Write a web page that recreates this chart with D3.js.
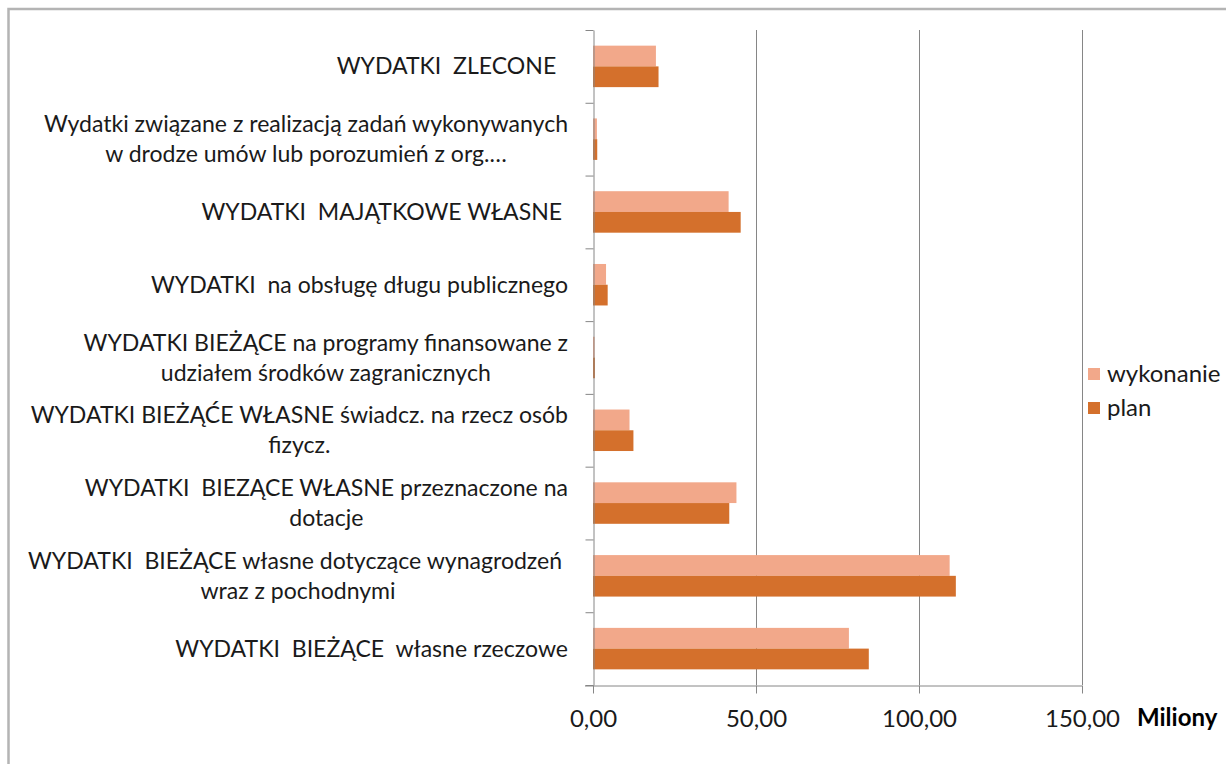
<!DOCTYPE html>
<html>
<head>
<meta charset="utf-8">
<script src="https://cdn.jsdelivr.net/npm/d3@7"></script>
<style>
  body { margin: 0; background: #fff; }
  svg text { font-family: Lato, "Open Sans", sans-serif; white-space: pre; }
</style>
</head>
<body>
<div id="chart"></div>
<script>
// categories top to bottom, "\n" = wrapped line
const categories = [
  "WYDATKI  ZLECONE  ",
  "Wydatki związane z realizacją zadań wykonywanych\nw drodze umów lub porozumień z org.…",
  "WYDATKI  MAJĄTKOWE WŁASNE ",
  "WYDATKI  na obsługę długu publicznego",
  "WYDATKI BIEŻĄCE na programy finansowane z\nudziałem środków zagranicznych",
  "WYDATKI BIEŻĄĆE WŁASNE świadcz. na rzecz osób\nfizycz.",
  "WYDATKI  BIEZĄCE WŁASNE przeznaczone na\ndotacje",
  "WYDATKI  BIEŻĄCE własne dotyczące wynagrodzeń \nwraz z pochodnymi",
  "WYDATKI  BIEŻĄCE  własne rzeczowe"
];
const series = ["wykonanie", "plan"];
const wykonanie = [19.3, 1.2, 41.6, 4.0, 0.5, 11.2, 44.0, 109.4, 78.5];
const plan      = [20.1, 1.3, 45.3, 4.5, 0.6, 12.4, 41.8, 111.3, 84.6];
const xTicks = [0, 50, 100, 150];
const unitLabel = "Miliony";

const colors = { wykonanie: "#F2A88A", plan: "#D4702C" };
const W = 1226, H = 764;

let svg = d3.select("#chart").append("svg")
    .attr("width", W)
    .attr("height", H);

// outer chart frame (runs off the picture right and bottom)
svg.append("rect")
    .attr("x", 8.5).attr("y", 9)
    .attr("width", 1300).attr("height", 800)
    .attr("fill", "none")
    .attr("stroke", "#b4b4b4")
    .attr("stroke-width", 2.5);

let x = d3.scaleLinear().domain([0, 150]).range([593, 1082]);
let y = d3.scaleBand().domain(categories).range([30, 685])
    .paddingInner(0.43).paddingOuter(0.215);
let ys = d3.scaleBand().domain(series).range([0, y.bandwidth()]);
let yIdx = d3.scaleLinear().domain([0, categories.length]).range([30, 685]);

// font size fitted so the longest label line is about as wide as in the original
let probe = svg.append("text").style("font-size", "20px")
    .text("Wydatki związane z realizacją zadań wykonywanych");
let fs = 20 * 546 / probe.node().getComputedTextLength();
probe.remove();
let labelFs = fs * 0.96;

// gridlines
svg.append("g")
    .selectAll("line")
    .data(xTicks.slice(1))
    .join("line")
    .attr("x1", d => x(d) + 0.5).attr("x2", d => x(d) + 0.5)
    .attr("y1", 30).attr("y2", 685)
    .attr("stroke", "#868686");

// bars
let rows = categories.map((c, i) => ({ cat: c, vals: { wykonanie: wykonanie[i], plan: plan[i] } }));
svg.append("g")
    .selectAll("g")
    .data(rows)
    .join("g")
    .attr("transform", d => "translate(0," + y(d.cat) + ")")
    .selectAll("rect")
    .data(d => series.map(s => ({ s: s, v: d.vals[s] })))
    .join("rect")
    .attr("x", x(0))
    .attr("y", d => ys(d.s))
    .attr("width", d => x(d.v) - x(0))
    .attr("height", ys.bandwidth())
    .attr("fill", d => colors[d.s]);

// category axis with ticks between groups
let yAxis = svg.append("g")
    .attr("transform", "translate(" + (x(0) + 0.5) + ",0)")
    .call(d3.axisLeft(yIdx).tickValues(d3.range(categories.length + 1)).tickFormat("").tickSize(8).tickSizeOuter(0));
yAxis.select(".domain").attr("stroke", "#868686");
yAxis.selectAll(".tick line").attr("stroke", "#868686");

// value axis
let xAxis = svg.append("g")
    .attr("transform", "translate(0," + 685.5 + ")")
    .call(d3.axisBottom(x).tickValues(xTicks)
        .tickFormat(d => d3.format(".2f")(d).replace(".", ","))
        .tickSize(8).tickSizeOuter(0));
xAxis.select(".domain").attr("stroke", "#868686").attr("d", "M585,0.5H" + x(150));
xAxis.selectAll(".tick line").attr("stroke", "#868686");
xAxis.selectAll(".tick text")
    .attr("y", 33).attr("dy", "0.35em")
    .style("font-size", fs + "px")
    .attr("fill", "#1a1a1a")
    .style("font-family", "Lato, 'Open Sans', sans-serif");

svg.append("text")
    .attr("x", 1137).attr("y", 718).attr("dy", "0.35em")
    .style("font-size", fs + "px")
    .style("font-weight", "bold")
    .attr("fill", "#000")
    .text(unitLabel);

// category labels, wrapped lines centred as one block ending at x=568
let lineH = 30;
let labels = svg.append("g");
categories.forEach(c => {
    let lines = c.split("\n");
    let t = labels.append("text")
        .attr("text-anchor", "middle")
        .style("font-size", labelFs + "px")
        .attr("fill", "#1a1a1a");
    let cy = y(c) - y.step() * y.paddingInner() / 2 + y.step() / 2;
    lines.forEach((l, k) => {
        t.append("tspan")
            .attr("y", cy + (k - (lines.length - 1) / 2) * lineH)
            .attr("dy", "0.35em")
            .text(l);
    });
    let widths = t.selectAll("tspan").nodes().map(n => n.getComputedTextLength());
    let cx = 568 - d3.max(widths) / 2;
    t.selectAll("tspan").attr("x", cx);
});

// legend
let legend = svg.append("g")
    .selectAll("g")
    .data(series)
    .join("g")
    .attr("transform", (d, i) => "translate(1088," + (374 + i * 34) + ")");
legend.append("rect")
    .attr("x", 0).attr("y", -6)
    .attr("width", 12).attr("height", 12)
    .attr("fill", d => colors[d]);
legend.append("text")
    .attr("x", 19).attr("dy", "0.35em")
    .style("font-size", fs + "px")
    .attr("fill", "#1a1a1a")
    .text(d => d);
</script>
</body>
</html>
